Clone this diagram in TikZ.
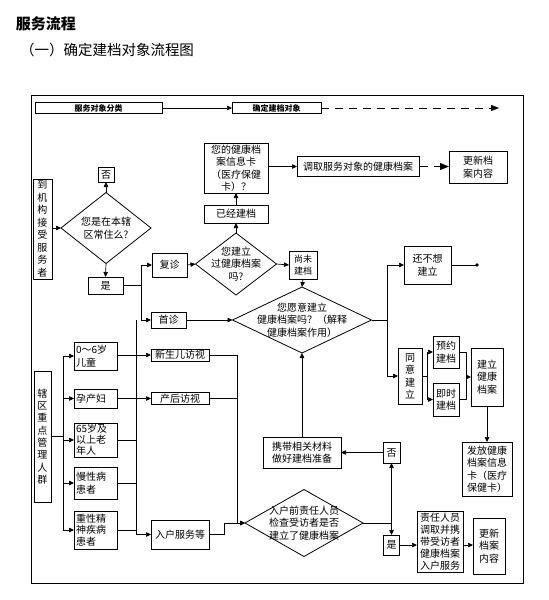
\documentclass[tikz,border=0pt]{standalone}
\usepackage{fontspec}
\setmainfont{Noto Sans CJK SC}
\usetikzlibrary{arrows.meta}
\begin{document}
\begin{tikzpicture}[x=1pt,y=-1pt,
 every node/.style={inner sep=0pt, outer sep=0pt},
 box/.style={draw, line width=0.8pt, align=center, font=\fontsize{10}{12.5}\selectfont},
 lbox/.style={box, align=left, inner xsep=2pt, text width=39pt},
 hbox/.style={draw, line width=0.8pt, font=\bfseries\fontsize{8}{9}\selectfont},
 arr/.style={line width=0.7pt, -{Triangle[length=5pt,width=4.5pt]}},
 ln/.style={line width=0.7pt},
 dia/.style={draw, line width=0.8pt},
 txt/.style={align=center, font=\fontsize{10}{12.5}\selectfont}]
\useasboundingbox (0,0) rectangle (549,600);

% titles
\node[anchor=west, font=\bfseries\fontsize{15}{18}\selectfont] (title) at (16,24) {服务流程};
\node[anchor=west, font=\fontsize{14.5}{18}\selectfont] (subtitle) at (20,50) {（一）确定建档对象流程图};

% frame
\draw[line width=1pt] (31,95) rectangle (523,583);

% header row
\node[hbox, minimum width=127pt, minimum height=11pt] (hd1) at (98.5,108) {服务对象分类};
\node[hbox, minimum width=89pt, minimum height=11pt] (hd2) at (276.5,108) {确定建档对象};
\coordinate (hdend) at (499,108);
\draw[arr] (hd1) -- (hd2);
\draw[line width=0.8pt, dash pattern=on 8pt off 6pt, -{Triangle[length=8pt,width=6pt]}] (hd2) -- (hdend);

% left upper part
\node[box, minimum width=19pt, minimum height=100pt] (daoji) at (42.5,229) {到\\机\\构\\接\\受\\服\\务\\者};
\coordinate (D1l) at (61,228); \coordinate (D1r) at (151,228);
\coordinate (D1t) at (106,192.5); \coordinate (D1b) at (106,263.5);
\draw[dia] (D1l) -- (D1t) -- (D1r) -- (D1b) -- cycle;
\node[txt] (D1) at (106,228) {您是在本辖\\区常住么?};
\node[box, minimum width=16pt, minimum height=15pt] (fou1) at (106,174.5) {否};
\node[box, minimum width=35pt, minimum height=17pt] (shi1) at (105.5,285.5) {是};
\draw[arr] (daoji.east |- D1l) -- (D1l);
\draw[arr] (D1t) -- (fou1.south);
\draw[arr] (D1b) -- (shi1.north);

\node[box, minimum width=35pt, minimum height=24pt] (fuzhen) at (169.5,265) {复诊};
\node[box, minimum width=35pt, minimum height=16pt] (shouzhen) at (168.5,320) {首诊};
\coordinate (j1) at (141,285.5);
\draw[ln] (shi1.east) -- (j1);
\draw[arr] (j1) |- (fuzhen.west);
\draw[arr] (j1) |- (shouzhen.west);

% D2
\coordinate (D2l) at (195.5,264); \coordinate (D2r) at (276.5,264);
\coordinate (D2t) at (236,233); \coordinate (D2b) at (236,295);
\draw[dia] (D2l) -- (D2t) -- (D2r) -- (D2b) -- cycle;
\node[txt] (D2) at (236,264) {您建立\\过健康档案\\吗?};
\draw[arr] (fuzhen.east) -- (D2l);

\node[box, minimum width=64pt, minimum height=18pt] (yijing) at (236,214) {已经建档};
\node[box, minimum width=64pt, minimum height=50pt] (xinxika) at (236,168) {您的健康档\\案信息卡\\（医疗保健\\卡）？};
\node[box, minimum width=122pt, minimum height=20pt] (diaoqu) at (358,166.5) {调取服务对象的健康档案};
\node[box, minimum width=58pt, minimum height=32pt] (gx1) at (478,167) {更新档\\案内容};
\draw[arr] (D2t) -- (yijing.south);
\draw[arr] (yijing.north) -- (xinxika.south);
\draw[arr] (xinxika.east |- diaoqu) -- (diaoqu.west);
\draw[line width=0.8pt, dash pattern=on 9pt off 6pt, -{Triangle[length=9pt,width=7pt]}] (diaoqu.east) -- (gx1.west |- diaoqu);

\node[box, minimum width=28pt, minimum height=28pt, font=\fontsize{9}{12}\selectfont] (weijian) at (303,265) {尚未\\建档};
\draw[arr] (D2r) -- (weijian.west);

% D3
\coordinate (D3l) at (232.5,320); \coordinate (D3r) at (371.5,320);
\coordinate (D3t) at (302,287); \coordinate (D3b) at (302,353);
\draw[dia] (D3l) -- (D3t) -- (D3r) -- (D3b) -- cycle;
\node[txt] (D3) at (302,320) {您愿意建立\\健康档案吗？（解释\\健康档案作用）};
\draw[arr] (weijian.south) -- (D3t);
\draw[arr] (shouzhen.east) -- (D3l);

\node[box, minimum width=47pt, minimum height=38pt] (buxiang) at (427.5,265) {还不想\\建立};
\node[box, minimum width=24pt, minimum height=56pt] (tongyi) at (410,376) {同\\意\\建\\立};
\coordinate (j5) at (387.5,320);
\draw[ln] (D3r) -- (j5);
\draw[arr] (j5) |- (buxiang.west);
\draw[arr] (j5) |- (tongyi.west);
\coordinate (dotend) at (477,265);
\draw[ln] (buxiang.east) -- (dotend);
\fill (dotend) circle (1.8pt);

\node[box, minimum width=26pt, minimum height=32pt] (yuyue) at (446,352) {预约\\建档};
\node[box, minimum width=26pt, minimum height=33pt] (jishi) at (446,399.5) {即时\\建档};
\coordinate (j6) at (427,376);
\draw[ln] (tongyi.east) -- (j6);
\draw[arr] (j6) |- (yuyue.west);
\draw[arr] (j6) |- (jishi.west);
\node[box, minimum width=32pt, minimum height=58pt] (jianli) at (487,377) {建立\\健康\\档案};
\coordinate (j7) at (466,377);
\draw[ln] (yuyue.east) -| (j7);
\draw[ln] (jishi.east) -| (j7);
\draw[arr] (j7) -- (jianli.west);
\node[box, minimum width=50pt, minimum height=54pt] (fafang) at (487,469) {发放健康\\档案信息\\卡（医疗\\保健卡）};
\draw[arr] (jianli.south) -- (fafang.north);

% left lower group
\node[box, minimum width=17pt, minimum height=131pt, font=\fontsize{10}{12.3}\selectfont] (xiaqu) at (42.5,436.5) {辖\\区\\重\\点\\管\\理\\人\\群};
\node[lbox, minimum height=28pt] (child) at (95.5,356) {0～6岁\\儿童};
\node[lbox, minimum height=19pt] (yunchan) at (95.5,398.5) {孕产妇};
\node[lbox, minimum height=34pt, font=\fontsize{10}{11}\selectfont] (old) at (95.5,440) {65岁及\\以上老\\年人};
\node[lbox, minimum height=32pt] (manxing) at (95.5,483) {慢性病\\患者};
\node[lbox, minimum height=38pt, font=\fontsize{10}{11.5}\selectfont] (zhong) at (95.5,530) {重性精\\神疾病\\患者};
\coordinate (j3) at (63,436.5);
\draw[ln] (xiaqu.east) -- (j3);
\draw[arr] (j3) |- (child.west);
\draw[arr] (j3) |- (yunchan.west);
\draw[arr] (j3) |- (old.west);
\draw[arr] (j3) |- (manxing.west);
\draw[arr] (j3) |- (zhong.west);

\node[box, minimum width=58pt, minimum height=12pt] (xinsheng) at (180,355) {新生儿访视};
\node[box, minimum width=58pt, minimum height=12pt] (chanhou) at (180,398.5) {产后访视};
\node[box, minimum width=58pt, minimum height=29pt] (ruhu) at (180,534.5) {入户服务等};
\draw[arr] (child.east |- xinsheng) -- (xinsheng.west);
\draw[arr] (yunchan.east) -- (chanhou.west);
\coordinate (j2) at (136,320);
\draw[ln] (old.east) -- (old.east -| j2);
\draw[ln] (manxing.east) -- (manxing.east -| j2);
\draw[ln] (zhong.east) -- (zhong.east -| j2);
\draw[arr] (j2) |- (ruhu.west);

% D4
\coordinate (D4l) at (245,523); \coordinate (D4r) at (363,523);
\coordinate (D4t) at (304,489.5); \coordinate (D4b) at (304,556.5);
\draw[dia] (D4l) -- (D4t) -- (D4r) -- (D4b) -- cycle;
\node[txt] (D4) at (304,523) {入户前责任人员\\检查受访者是否\\建立了健康档案};
\coordinate (j4) at (237,523);
\draw[ln] (xinsheng.east) -| (j4);
\draw[ln] (chanhou.east) -- (chanhou.east -| j4);
\draw[arr] (j4) -- (D4l);
\draw[arr] (ruhu.east) -- ++(15,0) |- (D4l);

\node[box, minimum width=17pt, minimum height=21pt] (fou2) at (391.5,452.5) {否};
\node[box, minimum width=16pt, minimum height=20pt] (shi2) at (391.5,545) {是};
\node[box, minimum width=78pt, minimum height=31pt] (xiedai) at (302,452.5) {携带相关材料\\做好建档准备};
\coordinate (j8) at (391.5,523);
\draw[ln] (D4r) -- (j8);
\draw[arr] (j8) -- (fou2.south);
\draw[arr] (j8) -- (shi2.north);
\draw[arr] (fou2.west) -- (xiedai.east);
\draw[arr] (xiedai.north) -- (D3b);

\node[box, minimum width=46pt, minimum height=61pt, font=\fontsize{10}{12}\selectfont] (zeren) at (440,541.5) {责任人员\\调取并携\\带受访者\\健康档案\\入户服务};
\node[box, minimum width=32pt, minimum height=56pt] (gx2) at (489,546) {更新\\档案\\内容};
\draw[arr] (shi2.east) -- (shi2.east -| zeren.west);
\draw[arr] (zeren.east |- shi2) -- (gx2.west |- shi2);
\end{tikzpicture}
\end{document}
